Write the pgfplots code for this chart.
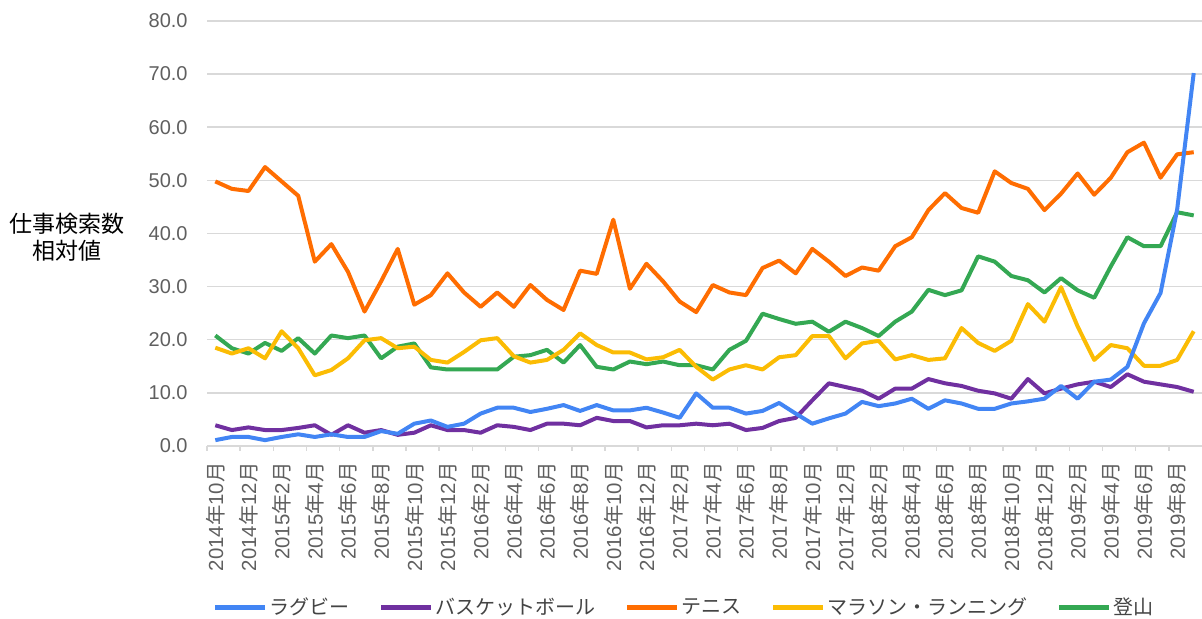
\documentclass[border=0pt]{standalone}
\usepackage{fontspec}
\setmainfont{Liberation Sans}
\newfontfamily\cjk{Noto Sans CJK JP}
\usepackage{pgfplots}
\usepackage{pgfplotstable}
\pgfplotsset{compat=1.18}
\definecolor{cblue}{HTML}{4285F4}
\definecolor{cpurple}{HTML}{7030A0}
\definecolor{corange}{HTML}{FF6D01}
\definecolor{cyellow}{HTML}{FBBC04}
\definecolor{cgreen}{HTML}{34A853}
\definecolor{gridgray}{HTML}{D9D9D9}
\definecolor{tickgray}{HTML}{5F5F5F}
\definecolor{leggray}{HTML}{444444}
\newcommand\ym[2]{#1{\cjk 年}#2{\cjk 月}}
\pgfplotstableread{
i rugby basket tennis marathon climb
0 1.1 3.9 49.8 18.5 20.8
1 1.7 3.0 48.4 17.4 18.4
2 1.7 3.5 48.0 18.4 17.4
3 1.1 3.0 52.5 16.5 19.4
4 1.7 3.0 49.8 21.6 17.9
5 2.2 3.4 47.1 18.4 20.3
6 1.7 3.9 34.7 13.3 17.4
7 2.2 2.1 38.0 14.3 20.8
8 1.7 3.9 32.8 16.5 20.3
9 1.7 2.5 25.3 19.9 20.8
10 2.8 3.0 31.0 20.3 16.5
11 2.3 2.1 37.1 18.4 18.7
12 4.2 2.5 26.6 18.7 19.3
13 4.8 3.9 28.4 16.2 14.8
14 3.6 3.0 32.5 15.7 14.4
15 4.2 3.0 28.9 17.7 14.4
16 6.1 2.5 26.2 19.9 14.4
17 7.2 3.9 28.9 20.3 14.4
18 7.2 3.6 26.2 16.9 16.8
19 6.4 3.0 30.3 15.7 17.1
20 7.0 4.2 27.5 16.2 18.1
21 7.7 4.2 25.6 18.1 15.7
22 6.6 3.9 33.0 21.2 19.0
23 7.7 5.3 32.4 19.0 14.9
24 6.7 4.7 42.6 17.6 14.4
25 6.7 4.7 29.6 17.6 15.9
26 7.2 3.5 34.3 16.3 15.4
27 6.3 3.9 31.0 16.7 15.9
28 5.3 3.9 27.2 18.1 15.2
29 9.9 4.2 25.2 14.9 15.2
30 7.2 3.9 30.3 12.5 14.4
31 7.2 4.2 28.9 14.4 18.1
32 6.1 3.0 28.4 15.2 19.8
33 6.6 3.4 33.5 14.4 24.9
34 8.1 4.7 34.9 16.7 23.9
35 6.1 5.3 32.5 17.1 23.0
36 4.2 8.6 37.1 20.7 23.4
37 5.2 11.8 34.7 20.7 21.5
38 6.1 11.1 32.0 16.5 23.4
39 8.3 10.4 33.6 19.3 22.2
40 7.5 8.9 33.0 19.8 20.7
41 8.0 10.8 37.6 16.3 23.4
42 8.9 10.8 39.3 17.1 25.3
43 7.0 12.6 44.4 16.2 29.4
44 8.6 11.8 47.6 16.5 28.4
45 8.0 11.3 44.8 22.2 29.3
46 7.0 10.4 43.9 19.4 35.7
47 7.0 9.9 51.7 17.9 34.7
48 8.0 8.9 49.5 19.8 32.0
49 8.4 12.6 48.4 26.7 31.2
50 8.9 9.9 44.4 23.4 28.9
51 11.3 10.8 47.5 29.9 31.6
52 8.9 11.6 51.3 22.5 29.3
53 12.1 12.1 47.3 16.2 27.9
54 12.5 11.1 50.5 19.0 33.8
55 14.9 13.5 55.3 18.4 39.3
56 23.1 12.1 57.1 15.1 37.6
57 28.8 11.6 50.5 15.1 37.6
58 44.5 11.1 54.9 16.2 44.0
59 70.2 10.2 55.3 21.6 43.4
}\data
\begin{document}
\begin{tikzpicture}
\begin{axis}[
  at={(103.5pt,86.5pt)}, anchor=south west,
  scale only axis, width=497.5pt, height=212.5pt,
  xmin=-0.5, xmax=59.5, ymin=0, ymax=80,
  ytick={0,10,...,80},
  xtick={0,2,...,58},
  xticklabels={\ym{2014}{10},\ym{2014}{12},\ym{2015}{2},\ym{2015}{4},\ym{2015}{6},\ym{2015}{8},\ym{2015}{10},\ym{2015}{12},\ym{2016}{2},\ym{2016}{4},\ym{2016}{6},\ym{2016}{8},\ym{2016}{10},\ym{2016}{12},\ym{2017}{2},\ym{2017}{4},\ym{2017}{6},\ym{2017}{8},\ym{2017}{10},\ym{2017}{12},\ym{2018}{2},\ym{2018}{4},\ym{2018}{6},\ym{2018}{8},\ym{2018}{10},\ym{2018}{12},\ym{2019}{2},\ym{2019}{4},\ym{2019}{6},\ym{2019}{8}},
  minor xtick={-0.5,1.5,...,57.5},
  major tick length=0pt, minor tick length=2.5pt, tick align=outside,
  ymajorgrids, grid style={color=gridgray, line width=0.75pt},
  axis x line*=bottom, axis y line*=left,
  x axis line style={draw=gridgray, line width=0.75pt, -},
  y axis line style={draw=none},
  minor tick style={draw=gridgray, line width=0.75pt},
  ytick style={draw=none},
  yticklabel style={font=\fontsize{10}{12}\selectfont, color=tickgray, anchor=east, inner sep=0pt,
    /pgf/number format/.cd, fixed, fixed zerofill, precision=1, assume math mode=true},
  yticklabel shift=9.5pt,
  xticklabel style={rotate=90, anchor=east, inner sep=0pt, font=\fontsize{10.2}{12}\selectfont, color=tickgray},
  xticklabel shift=8pt,
  every axis y label/.style={at={(rel axis cs:-0.1407,0.492)}, anchor=center, align=center, font=\cjk\fontsize{11.5}{13.5}\selectfont},
  ylabel={仕事検索数\\相対値},
  legend columns=5,
  legend style={at={(0.479,-0.381)}, anchor=center, draw=none, fill=none,
    font=\cjk\fontsize{10}{12}\selectfont, text=leggray,
    nodes={inner sep=0.75pt},
    /tikz/every even column/.append style={column sep=14pt}},
  legend image code/.code={\draw[#1,line width=2.5pt] (0pt,0pt) -- (25pt,0pt);},
  legend cell align=left,
  every axis plot/.append style={line width=2pt, line join=round},
]
\addplot[cgreen, forget plot] table[x=i,y=climb]{\data};
\addplot[cyellow, forget plot] table[x=i,y=marathon]{\data};
\addplot[corange, forget plot] table[x=i,y=tennis]{\data};
\addplot[cpurple, forget plot] table[x=i,y=basket]{\data};
\addplot[cblue, forget plot] table[x=i,y=rugby]{\data};
\addlegendimage{cblue}\addlegendentry{ラグビー}
\addlegendimage{cpurple}\addlegendentry{バスケットボール}
\addlegendimage{corange}\addlegendentry{テニス}
\addlegendimage{cyellow}\addlegendentry{マラソン・ランニング}
\addlegendimage{cgreen}\addlegendentry{登山}
\end{axis}
\pgfresetboundingbox
\path[use as bounding box] (0,0) rectangle (601pt,309.5pt);
\end{tikzpicture}
\end{document}
